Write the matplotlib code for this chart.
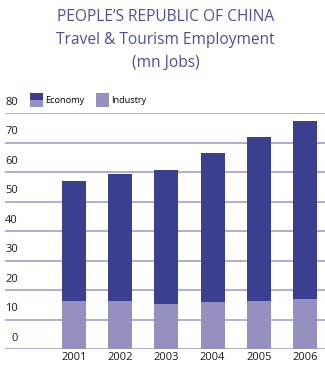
import matplotlib.pyplot as plt
from matplotlib.patches import Rectangle
from matplotlib.transforms import offset_copy

# Travel & Tourism employment, mn jobs
years = ['2001', '2002', '2003', '2004', '2005', '2006']
economy = [57.0, 59.3, 60.7, 66.4, 72.1, 77.5]
industry = [16.5, 16.5, 15.2, 15.9, 16.5, 17.2]
yticks = [0, 10, 20, 30, 40, 50, 60, 70, 80]

DARK = '#3b3f8f'
LIGHT = '#9491c1'
GRID = '#a39fcb'
TITLE = '#4d4e9e'

plt.rcParams['font.family'] = ['Open Sans', 'DejaVu Sans']


class SplitHandler:
    """legend swatch: dark top half, light bottom half"""
    def legend_artist(self, legend, orig_handle, fontsize, handlebox):
        x0, y0 = -handlebox.xdescent, -handlebox.ydescent
        w, h = handlebox.width, handlebox.height
        tr = handlebox.get_transform()
        top = Rectangle((x0, y0 + h / 2), w, h / 2, facecolor=DARK, lw=0, transform=tr)
        bot = Rectangle((x0, y0), w, h / 2, facecolor=LIGHT, lw=0, transform=tr)
        handlebox.add_artist(top)
        handlebox.add_artist(bot)
        return top


fig = plt.figure(figsize=(3.25, 3.67), dpi=100)
ax = fig.add_axes([5 / 325, 17.7 / 367, 320 / 325, 236 / 367])

x = range(len(years))
eco_bars = ax.bar(x, economy, width=0.52, color=DARK, zorder=2)
ind_bars = ax.bar(x, industry, width=0.52, color=LIGHT, zorder=3)

ax.set_xlim(-1.49, 5.43)
ax.set_ylim(0, 80)
for v in yticks:
    ax.axhline(v, color=GRID, lw=1.2, zorder=1)

# value labels sit above their gridlines
lab_tr = offset_copy(ax.get_yaxis_transform(), fig=fig, y=8, units='points')
for v in yticks:
    ax.text(0.04, v, str(v), transform=lab_tr, ha='right', va='center',
            fontsize=8, color='#1a1a1a')

ax.set_yticks([])
ax.set_xticks(list(x))
ax.set_xticklabels(years, fontsize=8, color='#1a1a1a')
ax.tick_params(axis='x', length=0, pad=2.2)
for s in ax.spines.values():
    s.set_visible(False)

fig.text(0.51, 1 - 17.3 / 367, "PEOPLE\u2019S REPUBLIC OF CHINA", ha='center', va='center',
         fontsize=11.2, color=TITLE)
fig.text(0.51, 1 - 40 / 367, "Travel & Tourism Employment", ha='center', va='center',
         fontsize=11.2, color=TITLE)
fig.text(0.51, 1 - 62.7 / 367, "(mn Jobs)", ha='center', va='center',
         fontsize=11.2, color=TITLE)

ax.legend([eco_bars, ind_bars], ['Economy', 'Industry'],
          handler_map={eco_bars: SplitHandler()},
          loc='upper left', bbox_to_anchor=(30 / 325, 1 - 92.7 / 367),
          bbox_transform=fig.transFigure, ncol=2, frameon=False,
          fontsize=6.6, borderpad=0, borderaxespad=0,
          handlelength=1.4, handleheight=2.0, handletextpad=0.3,
          columnspacing=1.2)

plt.savefig('out.png', dpi=100)
